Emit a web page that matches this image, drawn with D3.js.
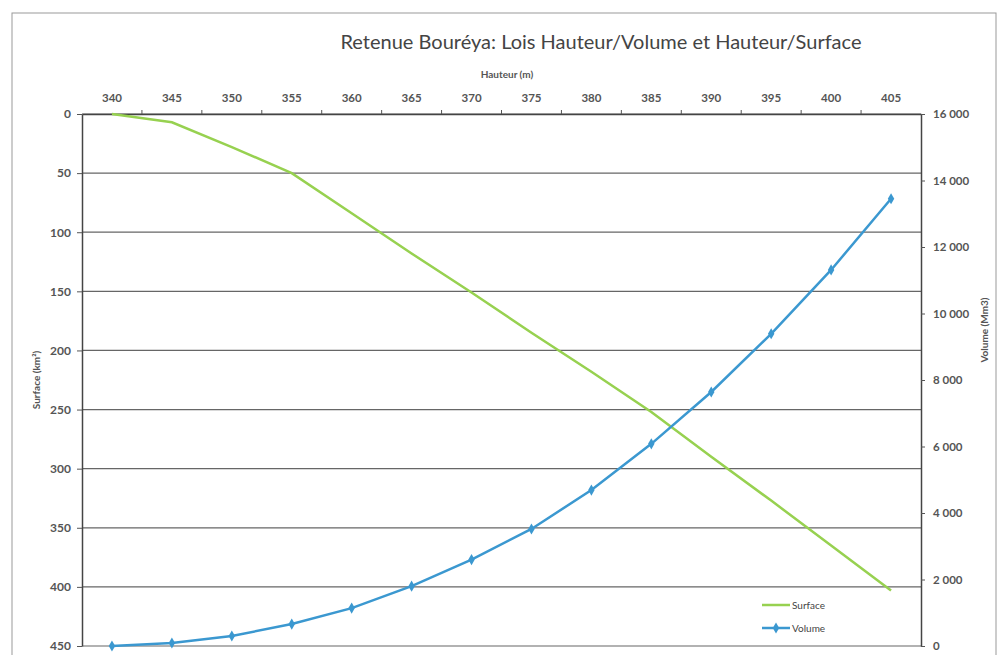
<!DOCTYPE html>
<html>
<head>
<meta charset="utf-8">
<script src="https://cdn.jsdelivr.net/npm/d3@7"></script>
<style>
  body { margin: 0; background: #fff; }
  text { font-family: Lato, "Open Sans", sans-serif; }
</style>
</head>
<body>
<svg id="chart" width="997" height="655"></svg>
<script>
// heights (m) - category axis
const hauteur = [340, 345, 350, 355, 360, 365, 370, 375, 380, 385, 390, 395, 400, 405];
// surface (km²)
const surface = [0, 7, 28, 50, 84, 118, 151, 185, 218, 252, 290, 327, 365, 403];
// volume (Mm3)
const volume = [0, 90, 300, 660, 1140, 1800, 2600, 3520, 4690, 6080, 7640, 9390, 11310, 13450];

const surfaceTicks = [0, 50, 100, 150, 200, 250, 300, 350, 400, 450];
const volumeTicks = [0, 2000, 4000, 6000, 8000, 10000, 12000, 14000, 16000];

let svg = d3.select('#chart');
let plot = {left: 82, right: 921, top: 114, bottom: 646};

let sx = d3.scaleBand().domain(hauteur).range([plot.left, plot.right]).padding(0);
let sySurf = d3.scaleLinear().domain([0, 450]).range([plot.top, plot.bottom]);
let syVol = d3.scaleLinear().domain([0, 16000]).range([plot.bottom, plot.top]);
let cx = h => sx(h) + sx.bandwidth() / 2;

let fr = d3.formatLocale({decimal: ',', thousands: '\u00a0', grouping: [3], currency: ['', '']});
let fmtVol = fr.format(',d');

// outer frame
svg.append('rect')
  .attr('x', 12).attr('y', 13).attr('width', 984).attr('height', 650)
  .attr('fill', 'none').attr('stroke', '#999').attr('stroke-width', 1);

// title
svg.append('text')
  .attr('x', 601).attr('y', 49)
  .attr('text-anchor', 'middle')
  .attr('font-size', 20).attr('fill', '#444')
  .text('Retenue Bouréya: Lois Hauteur/Volume et Hauteur/Surface');

// gridlines
svg.append('g').selectAll('line')
  .data(surfaceTicks)
  .join('line')
  .attr('x1', plot.left).attr('x2', plot.right)
  .attr('y1', d => sySurf(d)).attr('y2', d => sySurf(d))
  .attr('stroke', '#666').attr('stroke-width', 1.2);

// top axis (Hauteur)
let gTop = svg.append('g')
  .attr('transform', `translate(0,${plot.top})`)
  .call(d3.axisTop(sx).tickSize(0).tickPadding(12));
gTop.select('.domain').attr('stroke', '#444').attr('stroke-width', 1.5);
gTop.selectAll('text').attr('font-size', 11.5).attr('font-weight', 'bold').attr('fill', '#555');
gTop.selectAll('.bnd')
  .data(hauteur.slice(1))
  .join('line')
  .attr('class', 'bnd')
  .attr('x1', d => sx(d)).attr('x2', d => sx(d))
  .attr('y1', 0).attr('y2', -4)
  .attr('stroke', '#555');

svg.append('text')
  .attr('x', 507).attr('y', 78)
  .attr('text-anchor', 'middle')
  .attr('font-size', 10).attr('font-weight', 'bold').attr('fill', '#555')
  .text('Hauteur (m)');

// left axis (Surface, inverted)
let gLeft = svg.append('g')
  .attr('transform', `translate(${plot.left},0)`)
  .call(d3.axisLeft(sySurf).tickValues(surfaceTicks).tickSize(5).tickPadding(6).tickSizeOuter(0));
gLeft.select('.domain').attr('stroke', '#444').attr('stroke-width', 1.5);
gLeft.selectAll('.tick line').attr('stroke', '#555');
gLeft.selectAll('text').attr('font-size', 12).attr('font-weight', 'bold').attr('fill', '#555');

svg.append('text')
  .attr('transform', 'translate(40,380) rotate(-90)')
  .attr('text-anchor', 'middle')
  .attr('font-size', 10).attr('font-weight', 'bold').attr('fill', '#555')
  .text('Surface (km²)');

// right axis (Volume)
let gRight = svg.append('g')
  .attr('transform', `translate(${plot.right},0)`)
  .call(d3.axisRight(syVol).tickValues(volumeTicks).tickFormat(fmtVol).tickSize(4).tickPadding(8).tickSizeOuter(0));
gRight.select('.domain').attr('stroke', '#444').attr('stroke-width', 1.5);
gRight.selectAll('.tick line').attr('stroke', '#555');
gRight.selectAll('text').attr('font-size', 11.5).attr('font-weight', 'bold').attr('fill', '#555');

svg.append('text')
  .attr('transform', 'translate(988,330) rotate(-90)')
  .attr('text-anchor', 'middle')
  .attr('font-size', 10).attr('font-weight', 'bold').attr('fill', '#555')
  .text('Volume (Mm3)');

// surface line
let lineSurf = d3.line()
  .x((d, i) => cx(hauteur[i]))
  .y(d => sySurf(d));
svg.append('path')
  .attr('d', lineSurf(surface))
  .attr('fill', 'none').attr('stroke', '#97d150').attr('stroke-width', 2.5);

// volume line
let lineVol = d3.line()
  .x((d, i) => cx(hauteur[i]))
  .y(d => syVol(d));
svg.append('path')
  .attr('d', lineVol(volume))
  .attr('fill', 'none').attr('stroke', '#3b98d0').attr('stroke-width', 2.5);

let diamond = d3.symbol().type(d3.symbolDiamond).size(36);
svg.append('g').selectAll('path')
  .data(volume)
  .join('path')
  .attr('transform', (d, i) => `translate(${cx(hauteur[i])},${syVol(d)})`)
  .attr('d', diamond)
  .attr('fill', '#3b98d0');

// legend
let legend = svg.append('g').attr('transform', 'translate(762,605)');
legend.append('line')
  .attr('x1', 0).attr('x2', 28).attr('y1', 0).attr('y2', 0)
  .attr('stroke', '#97d150').attr('stroke-width', 2.5);
legend.append('text')
  .attr('x', 30).attr('y', 4)
  .attr('font-size', 10).attr('fill', '#444')
  .text('Surface');
legend.append('line')
  .attr('x1', 0).attr('x2', 28).attr('y1', 23).attr('y2', 23)
  .attr('stroke', '#3b98d0').attr('stroke-width', 2.5);
legend.append('path')
  .attr('transform', 'translate(14,23)')
  .attr('d', diamond)
  .attr('fill', '#3b98d0');
legend.append('text')
  .attr('x', 30).attr('y', 27)
  .attr('font-size', 10).attr('fill', '#444')
  .text('Volume');
</script>
</body>
</html>
